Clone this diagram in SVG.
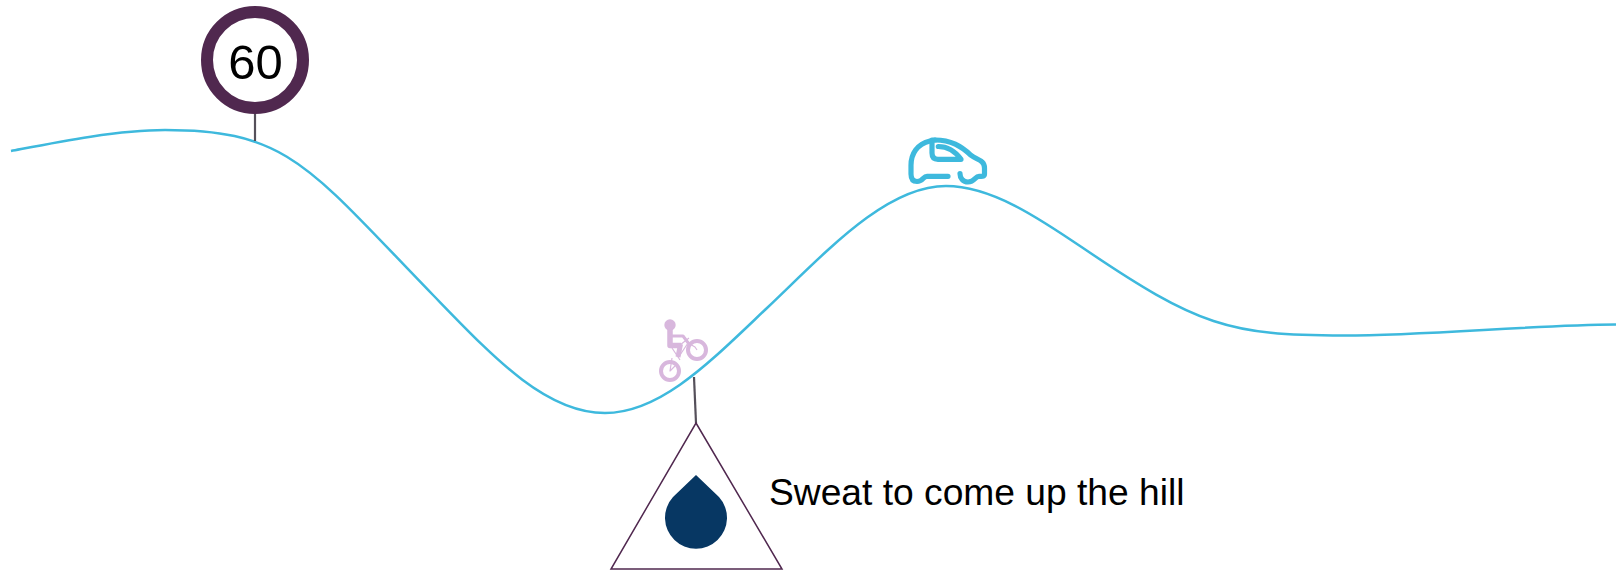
<svg xmlns="http://www.w3.org/2000/svg" width="1619" height="573" viewBox="0 0 1619 573">
<style>
text{font-family:"Liberation Sans",Arial,sans-serif;fill:#000}
.curve{fill:none;stroke:#3eb9dd;stroke-width:2.5}
.stem{fill:none;stroke:#55505a;stroke-width:2.2}
.bike{fill:none;stroke:#d8b7dd;stroke-linecap:butt;stroke-linejoin:round}
.car{fill:none;stroke:#3eb9dd;stroke-width:5.2;stroke-linecap:round;stroke-linejoin:round}
</style>
<rect width="1619" height="573" fill="#fff"/>
<g id="connectors">
<path class="curve" d="M11 151C50 143.5 115 130 165 130C289 130 309 167.3 433 295C493 356.8 545 413 605 413C661 413 711 361 767 308C827 251 886 186 946 186C991 186 1038 217.4 1083 248C1198 326 1229 335.5 1344 335.5C1430 335.5 1530 325 1616 324.5"/>
<path class="stem" d="M255 113V141"/>
<path class="stem" d="M694 377L696 423"/>
</g>
<g id="speed-sign">
<circle cx="255" cy="60" r="48" fill="#fff" stroke="#50284f" stroke-width="12"/>
<text x="255.5" y="79" font-size="49" text-anchor="middle">60</text>
</g>
<g id="car">
<path class="car" d="M930 141C917 144 911 154 911 165.3V174C911 179 913 181.5 917 181.5C923 181.5 923 176.3 927 176.3H948"/>
<path class="car" d="M935 140H932V153C932 157 934 159.3 938 159.3H961C955 151 947 146.5 938.3 146.5"/>
<path class="car" d="M935 140C951 140 961 146 971 155.3C977 160 984.5 160 984.5 168V174C984.5 177 982 176.3 979 176.3C975 176.3 975 182 968 182C963 182 960 178 960 173.7"/>
</g>
<g id="cyclist">
<circle cx="670" cy="325" r="5.7" fill="#d8b7dd"/>
<path class="bike" stroke-width="5.5" d="M670 329V345.5H681"/>
<path class="bike" stroke-width="5" d="M680.5 344L678 357"/>
<path class="bike" stroke-width="3" d="M670 336H683L689 344"/>
<circle class="bike" stroke-width="4" cx="697" cy="350" r="9"/>
<circle class="bike" stroke-width="4" cx="670" cy="371" r="9"/>
<path class="bike" stroke-width="1.2" d="M672 358L670 371L675 366M672 348L680 360M678 358L688 343L695 347L697 350M680 345L689 338"/>
</g>
<g id="sweat">
<path d="M696 423L782 569H611Z" fill="#fff" stroke="#50284f" stroke-width="1.5"/>
<path d="M696 475L719 497A31 31 0 1 1 673 497Z" fill="#073763"/>
<text x="769" y="505" font-size="37.2">Sweat to come up the hill</text>
</g>
</svg>
